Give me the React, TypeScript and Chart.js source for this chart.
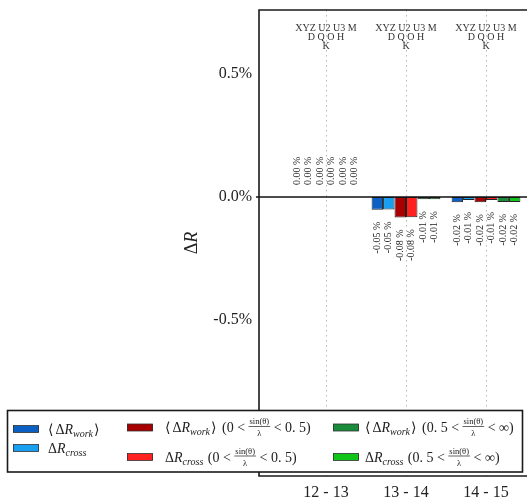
import { useEffect, useRef } from 'react';
import { Chart, registerables } from 'chart.js';

Chart.register(...registerables);

// ---- data ----
const categories = ['12 - 13', '13 - 14', '14 - 15'];
const headerLines = ['XYZ U2 U3 M', 'D Q O H', 'K'];
const workAll = [0, -0.052, -0.021];
const crossAll = [0, -0.051, -0.012];
const workLow = [0, -0.083, -0.021];
const crossLow = [0, -0.082, -0.012];
const workHigh = [0, -0.009, -0.02];
const crossHigh = [0, -0.009, -0.02];
const seriesValues = [workAll, crossAll, workLow, crossLow, workHigh, crossHigh];
const seriesNames = [
  '⟨ΔR_work⟩',
  'ΔR_cross',
  '⟨ΔR_work⟩ (0 < sin(θ)/λ < 0.5)',
  'ΔR_cross (0 < sin(θ)/λ < 0.5)',
  '⟨ΔR_work⟩ (0.5 < sin(θ)/λ < ∞)',
  'ΔR_cross (0.5 < sin(θ)/λ < ∞)',
];
const seriesColors = ['#0c5fc3', '#189ff0', '#a80000', '#ff2020', '#1a8b3b', '#10c418'];
const yTicks = [-0.5, 0, 0.5];
const yMin = -1.134;
const yMax = 0.76;

type Part = string | { i: string } | { sub: string } | { frac: [string, string] };
const WORK: Part[] = ['⟨', 'Δ', { i: 'R' }, { sub: 'work' }, '⟩'];
const CROSS: Part[] = ['Δ', { i: 'R' }, { sub: 'cross' }];
const LOW: Part[] = [' (0', ' < ', { frac: ['sin(θ)', 'λ'] }, ' < ', '0. 5)'];
const HIGH: Part[] = [' (0. 5', ' < ', { frac: ['sin(θ)', 'λ'] }, ' < ', '∞)'];
const legendParts: Part[][] = [WORK, CROSS, [...WORK, ...LOW], [...CROSS, ...LOW], [...WORK, ...HIGH], [...CROSS, ...HIGH]];

const SERIF = '"Liberation Serif", "DejaVu Serif", serif';
const INK = '#222';

function drawMath(ctx: CanvasRenderingContext2D, x0: number, base: number, parts: Part[]) {
  let x = x0;
  ctx.fillStyle = INK;
  ctx.textAlign = 'left';
  ctx.textBaseline = 'alphabetic';
  for (const p of parts) {
    if (typeof p === 'string') {
      ctx.font = `14px ${SERIF}`;
      ctx.fillText(p, x, base);
      x += ctx.measureText(p).width + (p === '⟨' || p === '⟩' ? 2 : 0);
    } else if ('i' in p) {
      ctx.font = `italic 14px ${SERIF}`;
      ctx.fillText(p.i, x, base);
      x += ctx.measureText(p.i).width;
    } else if ('sub' in p) {
      ctx.font = `italic 10px ${SERIF}`;
      ctx.fillText(p.sub, x, base + 3);
      x += ctx.measureText(p.sub).width + 1;
    } else {
      ctx.font = `8.5px ${SERIF}`;
      const [n, d] = p.frac;
      const w = Math.max(ctx.measureText(n).width, ctx.measureText(d).width) + 2;
      ctx.textAlign = 'center';
      ctx.fillText(n, x + w / 2, base - 8);
      ctx.fillText(d, x + w / 2, base + 4);
      ctx.textAlign = 'left';
      ctx.strokeStyle = INK;
      ctx.lineWidth = 0.7;
      ctx.beginPath();
      ctx.moveTo(x, base - 5.5);
      ctx.lineTo(x + w, base - 5.5);
      ctx.stroke();
      x += w;
    }
  }
}

const overlay = {
  id: 'overlay',
  beforeDatasetsDraw(chart: any) {
    const { ctx, chartArea: a, scales } = chart;
    ctx.save();
    ctx.strokeStyle = '#b8b8b8';
    ctx.lineWidth = 1;
    ctx.setLineDash([1.5, 3.5]);
    categories.forEach((_, i) => {
      const px = Math.round(scales.x.getPixelForValue(i)) + 0.5;
      ctx.beginPath();
      ctx.moveTo(px, a.top);
      ctx.lineTo(px, a.bottom);
      ctx.stroke();
    });
    ctx.restore();
  },
  afterDatasetsDraw(chart: any) {
    const { ctx, chartArea: a, scales } = chart;
    ctx.save();
    // zero line
    const zy = scales.y.getPixelForValue(0);
    ctx.strokeStyle = '#111';
    ctx.lineWidth = 1.5;
    ctx.beginPath();
    ctx.moveTo(a.left - 3, zy);
    ctx.lineTo(a.right, zy);
    ctx.stroke();
    // value labels
    ctx.fillStyle = INK;
    ctx.font = `10px ${SERIF}`;
    ctx.textBaseline = 'middle';
    seriesValues.forEach((vals, di) => {
      const meta = chart.getDatasetMeta(di);
      vals.forEach((v, j) => {
        const el = meta.data[j];
        const txt = v.toFixed(2).replace('-0.00', '0.00') + ' %';
        ctx.save();
        if (v >= 0) {
          ctx.translate(el.x, Math.min(el.y, el.base) - 12);
          ctx.rotate(-Math.PI / 2);
          ctx.textAlign = 'left';
        } else {
          ctx.translate(el.x, Math.max(el.y, el.base) + 12);
          ctx.rotate(-Math.PI / 2);
          ctx.textAlign = 'right';
        }
        ctx.fillText(txt, 0, 0);
        ctx.restore();
      });
    });
    // header text
    ctx.font = `10px ${SERIF}`;
    ctx.textAlign = 'center';
    ctx.textBaseline = 'middle';
    ctx.fillStyle = '#333';
    categories.forEach((_, i) => {
      const px = scales.x.getPixelForValue(i);
      headerLines.forEach((line, k) => {
        ctx.fillText(line, px, 28.5 + k * 9);
      });
    });
    // frame (left, top, bottom)
    ctx.strokeStyle = '#1a1a1a';
    ctx.lineWidth = 1.6;
    ctx.beginPath();
    ctx.moveTo(a.right + 2, a.top);
    ctx.lineTo(a.left, a.top);
    ctx.lineTo(a.left, a.bottom);
    ctx.lineTo(a.right + 2, a.bottom);
    ctx.stroke();
    ctx.restore();
  },
  afterDraw(chart: any) {
    const { ctx, chartArea: a } = chart;
    ctx.save();
    // y title
    ctx.translate(197, (a.top + a.bottom) / 2);
    ctx.rotate(-Math.PI / 2);
    ctx.fillStyle = INK;
    ctx.textBaseline = 'alphabetic';
    ctx.font = `18px ${SERIF}`;
    const w1 = ctx.measureText('Δ').width;
    ctx.font = `italic 18px ${SERIF}`;
    const w2 = ctx.measureText('R').width;
    ctx.font = `18px ${SERIF}`;
    ctx.textAlign = 'left';
    ctx.fillText('Δ', -(w1 + w2) / 2, 0);
    ctx.font = `italic 18px ${SERIF}`;
    ctx.fillText('R', -(w1 + w2) / 2 + w1, 0);
    ctx.restore();

    // legend
    ctx.save();
    ctx.fillStyle = '#fff';
    ctx.fillRect(7, 410, 516, 62);
    ctx.strokeStyle = '#1a1a1a';
    ctx.lineWidth = 1.6;
    ctx.strokeRect(7.5, 410.5, 515, 61.5);
    const slots = [
      { sx: 13, tx: 48, cy: 429 },
      { sx: 13, tx: 48, cy: 448 },
      { sx: 127, tx: 165, cy: 427.5 },
      { sx: 127, tx: 165, cy: 457 },
      { sx: 333, tx: 365, cy: 427.5 },
      { sx: 333, tx: 365, cy: 457 },
    ];
    slots.forEach((s, i) => {
      ctx.fillStyle = seriesColors[i];
      ctx.fillRect(s.sx, s.cy - 3.5, 26, 7);
      ctx.strokeStyle = '#333';
      ctx.lineWidth = 0.8;
      ctx.strokeRect(s.sx + 0.5, s.cy - 3.5, 25, 7);
      drawMath(ctx, s.tx, s.cy + 4.5, legendParts[i]);
    });
    ctx.restore();
  },
};

export default function App() {
  const ref = useRef<HTMLCanvasElement | null>(null);
  useEffect(() => {
    if (!ref.current) return;
    const font = { family: SERIF, size: 16 };
    const chart = new Chart(ref.current, {
      type: 'bar',
      data: {
        datasets: seriesValues.map((vals, i) => ({
          label: seriesNames[i],
          data: vals.map((v, j) => ({ x: j, y: v })),
          backgroundColor: seriesColors[i],
          borderColor: '#222',
          borderWidth: vals.map((v) => (v === 0 ? 0 : 1)),
          borderSkipped: false,
          categoryPercentage: 0.86,
          barPercentage: 1,
        })),
      },
      options: {
        responsive: false,
        animation: false,
        devicePixelRatio: 1,
        layout: { padding: { top: 10, left: 0, right: 0, bottom: 0 } },
        plugins: { legend: { display: false }, tooltip: { enabled: false } },
        scales: {
          x: {
            type: 'linear',
            min: -0.8375,
            max: 2.5125,
            offset: false,
            afterBuildTicks: (s: any) => {
              s.ticks = categories.map((_, i) => ({ value: i }));
            },
            afterFit: (s: any) => {
              s.height = 28;
              s.paddingLeft = 0;
              s.paddingRight = 0;
            },
            grid: { display: false, offset: false, drawTicks: false },
            border: { display: false },
            ticks: {
              callback: (v: any) => categories[v] ?? '',
              font,
              color: INK,
              padding: 7,
              maxRotation: 0,
              autoSkip: false,
            },
          },
          y: {
            min: yMin,
            max: yMax,
            afterBuildTicks: (s: any) => {
              s.ticks = yTicks.map((v) => ({ value: v }));
            },
            afterFit: (s: any) => {
              s.width = 259;
              s.paddingTop = 0;
              s.paddingBottom = 0;
            },
            grid: { display: false, drawTicks: false },
            border: { display: false },
            ticks: {
              callback: (v: any) => Number(v).toFixed(1) + '%',
              font,
              color: INK,
              padding: 7,
            },
          },
        },
      } as any,
      plugins: [overlay],
    });
    return () => chart.destroy();
  }, []);
  return (
    <canvas
      ref={ref}
      width={527}
      height={504}
      style={{ position: 'absolute', left: 0, top: 0, background: '#fff' }}
    />
  );
}
